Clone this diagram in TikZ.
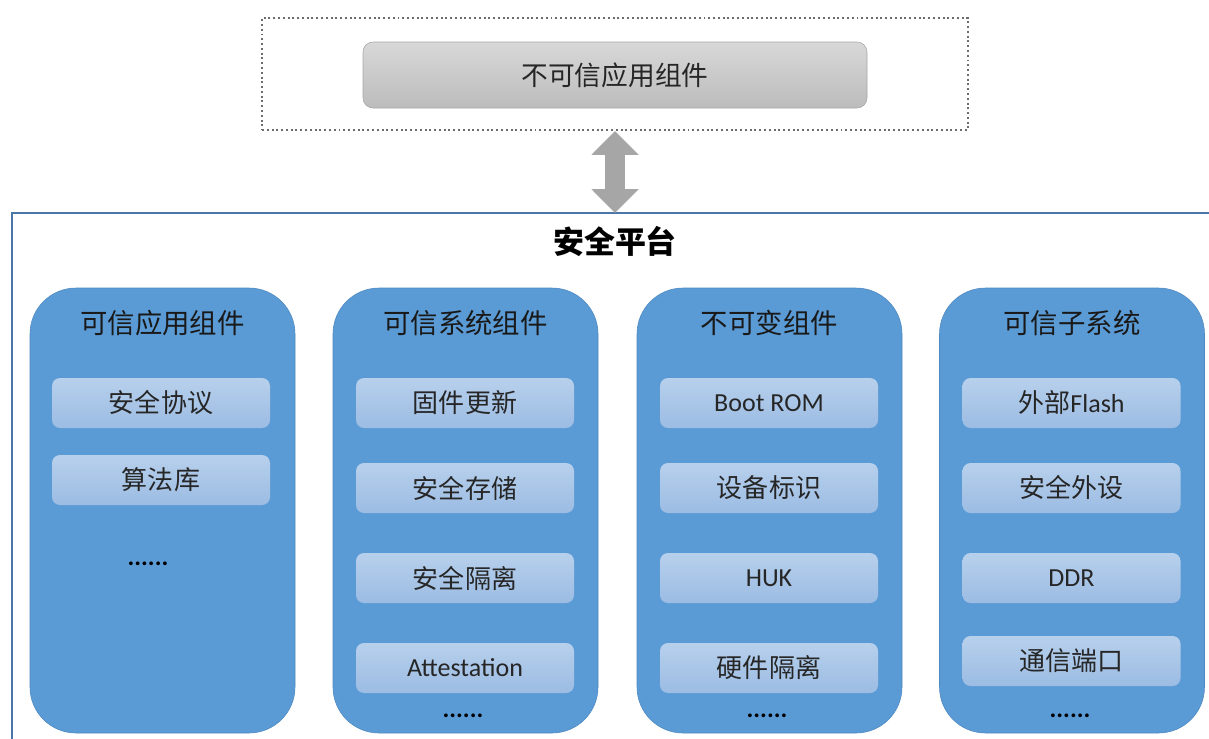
\documentclass[tikz,border=0pt]{standalone}
\usepackage{fontspec}
\setmainfont{Noto Sans CJK SC}
\newfontfamily\latinfont{Carlito}
\usetikzlibrary{arrows.meta}
\usetikzlibrary{positioning}

\definecolor{colblue}{HTML}{5B9BD5}
\definecolor{coledge}{HTML}{4E88C0}
\definecolor{itemtop}{HTML}{B7D0EC}
\definecolor{itembot}{HTML}{9CBCE3}
\definecolor{platblue}{HTML}{4A76A8}
\definecolor{graytop}{HTML}{D8D8D8}
\definecolor{graybot}{HTML}{BCBCBC}
\definecolor{arrowgray}{HTML}{A6A6A6}

\newcommand{\px}{0.025cm}
\tikzset{>=latex}
\tikzset{
  outerbox/.style = {draw=gray!85!black, dotted, line width=1.4pt, minimum width=706*\px, minimum height=112*\px},
  untrusted/.style = {draw=gray!70, rounded corners=0.25cm, top color=graytop, bottom color=graybot,
                      minimum width=504*\px, minimum height=66*\px, font=\fontsize{19pt}{22pt}\selectfont, text=black!85},
  col/.style = {draw=coledge, fill=colblue, rounded corners=1.15cm, minimum width=265*\px, minimum height=445*\px},
  coltitle/.style = {font=\fontsize{19.5pt}{22pt}\selectfont, text=black!90},
  item/.style = {rounded corners=0.2cm, top color=itemtop, bottom color=itembot,
                 minimum width=218*\px, minimum height=50*\px, font=\fontsize{18.5pt}{22pt}\selectfont, text=black!85},
  dots/.style = {font=\latinfont\bfseries\fontsize{18pt}{20pt}\selectfont, text=black},
  bigarrow/.style = {arrowgray, line width=20*\px,
                     {Triangle[width=46*\px, length=24*\px]}-{Triangle[width=46*\px, length=24*\px]}}
}

\begin{document}
\begin{tikzpicture}[x=\px, y=-\px]
\useasboundingbox (0,0) rectangle (1209,738);

% untrusted side
\node [outerbox] (outer) at (615,74) {};
\node [untrusted] (app) at (615,75) {不可信应用组件};

% secure platform frame
\coordinate (plattop) at (615,213);
\draw [platblue, line width=2pt] (12,760) -- (12,213) -- (1230,213);
\node [font=\bfseries\fontsize{22pt}{24pt}\selectfont] (plat) at (615,241) {安全平台};
\draw [bigarrow] (outer.south) -- (plattop);

% columns
\node [col] (c1) at (162.5,510.5) {};
\node [col] (c2) at (465.5,510.5) {};
\node [col] (c3) at (769.5,510.5) {};
\node [col] (c4) at (1072,510.5) {};
\node [coltitle] (t1) at (162.5,323) {可信应用组件};
\node [coltitle] (t2) at (465.5,323) {可信系统组件};
\node [coltitle] (t3) at (769.5,323) {不可变组件};
\node [coltitle] (t4) at (1072,323) {可信子系统};

% trusted application components
\node [item] (a1) at (161,403) {安全协议};
\node [item] (a2) at (161,480) {算法库};
\node [dots] (a3) at (148,564) {......};

% trusted system components
\node [item] (b1) at (465,403) {固件更新};
\node [item] (b2) at (465,488) {安全存储};
\node [item] (b3) at (465,578) {安全隔离};
\node [item] (b4) at (465,668) {\latinfont Attestation};
\node [dots] (b5) at (463,716) {......};

% immutable components
\node [item] (d1) at (769,403) {\latinfont Boot ROM};
\node [item] (d2) at (769,488) {设备标识};
\node [item] (d3) at (769,578) {\latinfont HUK};
\node [item] (d4) at (769,668) {硬件隔离};
\node [dots] (d5) at (767,716) {......};

% trusted subsystem
\node [item] (e1) at (1071.5,403) {外部{\latinfont Flash}};
\node [item] (e2) at (1071.5,488) {安全外设};
\node [item] (e3) at (1071.5,578) {\latinfont DDR};
\node [item] (e4) at (1071.5,661) {通信端口};
\node [dots] (e5) at (1070,716) {......};
\end{tikzpicture}
\end{document}
